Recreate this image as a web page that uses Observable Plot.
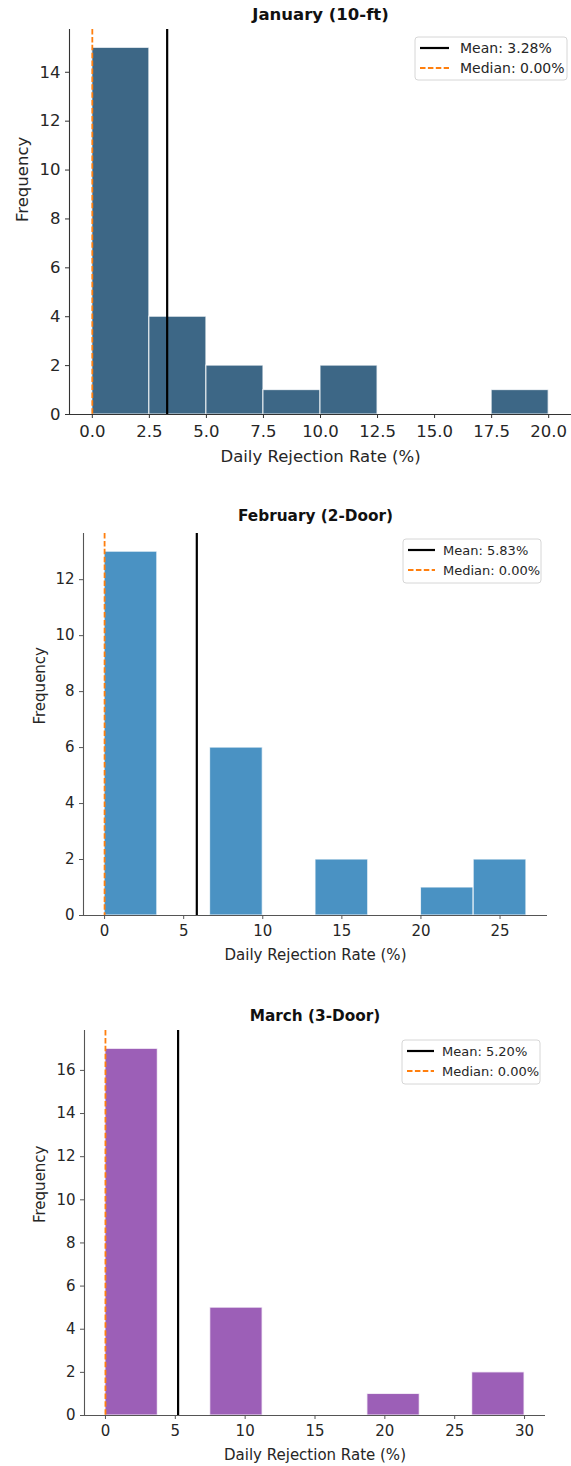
<!DOCTYPE html>
<html><head><meta charset="utf-8">
<script src="https://cdn.jsdelivr.net/npm/d3@7"></script>
<script src="https://cdn.jsdelivr.net/npm/@observablehq/plot@0.6"></script>
<style>
body{margin:0;background:#fff;}
#wrap{width:571px;}
#wrap svg{display:block;overflow:visible;}
</style>
</head><body><div id="wrap"></div>
<script>
// ---- data ----
const xLabel = "Daily Rejection Rate (%)";
const yLabel = "Frequency";

const janTitle = "January (10-ft)";
const janEdges = [0, 2.5, 5, 7.5, 10, 12.5, 15, 17.5, 20];
const janCounts = [15, 4, 2, 1, 2, 0, 0, 1];
const janMean = 3.28;
const janMedian = 0.00;
const janTicksX = [0, 2.5, 5, 7.5, 10, 12.5, 15, 17.5, 20];
const janTicksY = [0, 2, 4, 6, 8, 10, 12, 14];

const febTitle = "February (2-Door)";
const febEdges = [0, 3.333, 6.667, 10, 13.333, 16.667, 20, 23.333, 26.667];
const febCounts = [13, 0, 6, 0, 2, 0, 1, 2];
const febMean = 5.83;
const febMedian = 0.00;
const febTicksX = [0, 5, 10, 15, 20, 25];
const febTicksY = [0, 2, 4, 6, 8, 10, 12];

const marTitle = "March (3-Door)";
const marEdges = [0, 3.75, 7.5, 11.25, 15, 18.75, 22.5, 26.25, 30];
const marCounts = [17, 0, 5, 0, 0, 1, 0, 2];
const marMean = 5.20;
const marMedian = 0.00;
const marTicksX = [0, 5, 10, 15, 20, 25, 30];
const marTicksY = [0, 2, 4, 6, 8, 10, 12, 14, 16];

// ---- drawing ----
const FONT = "'DejaVu Sans', sans-serif";

function panel(o) {
  const bins = o.counts.map((c, i) => ({x1: o.edges[i], x2: o.edges[i + 1], count: c})).filter(d => d.count > 0);
  const lo = o.edges[0], hi = o.edges[o.edges.length - 1];
  const pad = (hi - lo) * 0.05;
  const xDom = [lo - pad, hi + pad];
  const yDom = [0, d3.max(o.counts) * 1.05];
  const ax = o.axisColor;
  const svg = Plot.plot({
    width: 571, height: o.height,
    marginTop: o.mt, marginBottom: o.mb, marginLeft: o.ml, marginRight: o.mr,
    style: {fontFamily: FONT, fontSize: o.fs + "px", color: "#262626", background: "white", overflow: "visible"},
    x: {domain: xDom},
    y: {domain: yDom},
    marks: [
      Plot.rectY(bins, {x1: "x1", x2: "x2", y: "count", fill: o.color, stroke: "white", strokeOpacity: 0.75, strokeWidth: 1.2}),
      Plot.ruleX([o.mean], {stroke: "black", strokeWidth: 2.2}),
      Plot.ruleX([o.median], {stroke: "#ff7f0e", strokeWidth: 1.8, strokeDasharray: "5.5,2.4"}),
      Plot.ruleY([yDom[0]], {stroke: ax, strokeWidth: 1.1}),
      Plot.ruleX([xDom[0]], {stroke: ax, strokeWidth: 1.1}),
      Plot.axisX({ticks: o.ticksX, tickFormat: o.fmtX, tickSize: 4, tickPadding: o.tpx, stroke: ax, label: null, fontSize: o.fs}),
      Plot.axisY({ticks: o.ticksY, tickFormat: d3.format("d"), tickSize: 4, tickPadding: o.tpy, stroke: ax, label: null, fontSize: o.fs}),
      Plot.text([o.title], {text: d => d, frameAnchor: "top", lineAnchor: "middle", dy: o.titleDy, fontWeight: "bold", fontSize: o.tfs, fill: "#111"}),
      Plot.text([xLabel], {text: d => d, frameAnchor: "bottom", lineAnchor: "middle", dy: o.xlDy, fontSize: o.fs}),
      Plot.text([yLabel], {text: d => d, frameAnchor: "left", lineAnchor: "middle", dx: o.ylDx, rotate: -90, fontSize: o.fs})
    ]
  });
  // legend
  const g = d3.select(svg).append("g").attr("font-family", FONT).attr("font-size", o.lfs).attr("text-anchor", "start");
  const L = o.legend;
  g.append("rect").attr("x", L.x).attr("y", L.y).attr("width", L.w).attr("height", L.h)
    .attr("rx", 3).attr("fill", "white").attr("fill-opacity", 0.85).attr("stroke", "#d6d6d6");
  const rows = [
    {label: `Mean: ${o.mean.toFixed(2)}%`, stroke: "black", dash: null, sw: 2.2},
    {label: `Median: ${o.median.toFixed(2)}%`, stroke: "#ff7f0e", dash: "5.5,2.4", sw: 1.8}
  ];
  rows.forEach((r, i) => {
    const cy = L.y + L.r0 + i * L.dy;
    const ln = g.append("line").attr("x1", L.x + 5).attr("x2", L.x + 5 + L.lw).attr("y1", cy).attr("y2", cy)
      .attr("stroke", r.stroke).attr("stroke-width", r.sw);
    if (r.dash) ln.attr("stroke-dasharray", r.dash);
    g.append("text").attr("x", L.x + L.tx).attr("y", cy).attr("dy", "0.35em").attr("fill", "#262626").text(r.label);
  });
  document.getElementById("wrap").appendChild(svg);
}

panel({
  title: janTitle, edges: janEdges, counts: janCounts, mean: janMean, median: janMedian,
  ticksX: janTicksX, ticksY: janTicksY, fmtX: d3.format(".1f"), color: "#3d6786", axisColor: "#333",
  height: 500, mt: 29, mb: 86, ml: 69, mr: 0, fs: 16.5, tfs: 16.5, lfs: 14,
  tpx: 7, tpy: 5, titleDy: -15, xlDy: 42, ylDx: -47,
  legend: {x: 415, y: 37, w: 152, h: 43, r0: 11, dy: 20, lw: 29, tx: 45}
});
panel({
  title: febTitle, edges: febEdges, counts: febCounts, mean: febMean, median: febMedian,
  ticksX: febTicksX, ticksY: febTicksY, fmtX: d3.format("d"), color: "#4a92c3", axisColor: "#555",
  height: 500, mt: 33, mb: 85, ml: 83, mr: 24, fs: 15, tfs: 15.3, lfs: 13,
  tpx: 6, tpy: 5, titleDy: -17, xlDy: 40, ylDx: -43,
  legend: {x: 403, y: 39, w: 138, h: 44, r0: 11, dy: 20, lw: 27, tx: 40}
});
panel({
  title: marTitle, edges: marEdges, counts: marCounts, mean: marMean, median: marMedian,
  ticksX: marTicksX, ticksY: marTicksY, fmtX: d3.format("d"), color: "#9c5fb7", axisColor: "#555",
  height: 466, mt: 30, mb: 51, ml: 84, mr: 26, fs: 15, tfs: 15.3, lfs: 13,
  tpx: 6, tpy: 5, titleDy: -14, xlDy: 40, ylDx: -44,
  legend: {x: 402, y: 40, w: 138, h: 44, r0: 11, dy: 20, lw: 27, tx: 40}
});
</script>
</body></html>
